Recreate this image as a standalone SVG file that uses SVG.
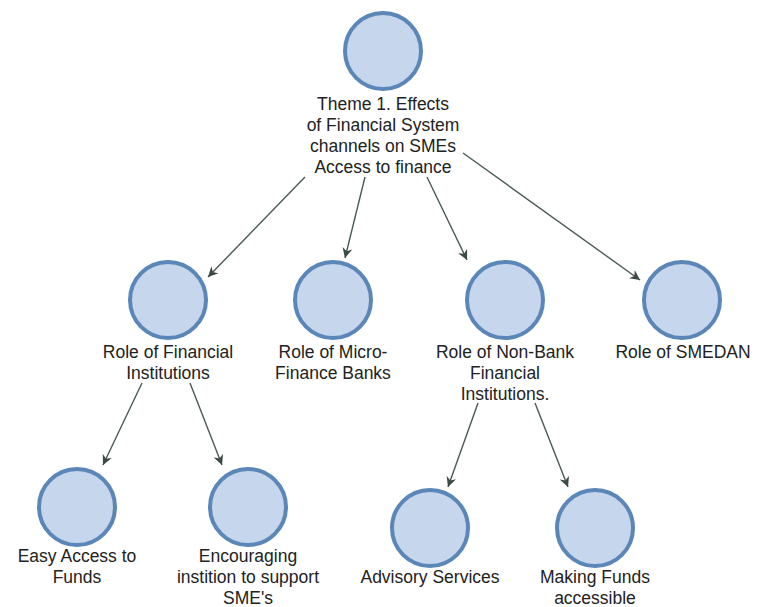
<svg xmlns="http://www.w3.org/2000/svg" width="761" height="607" viewBox="0 0 761 607">
<style>
.n{fill:#c6d6ec;stroke:#5b86b8;stroke-width:4}
.t{font-family:"Liberation Sans",Arial,sans-serif;font-size:17.5px;fill:#222;text-anchor:middle}
.e{stroke:#4a5a52;stroke-width:1.4;fill:none;marker-end:url(#a)}
</style>
<defs>
<marker id="a" viewBox="0 0 10 10" refX="10" refY="5" markerWidth="10" markerHeight="10" markerUnits="userSpaceOnUse" orient="auto">
<path d="M0,0 L10,5 L0,10 L3,5 z" fill="#3b4a42"/>
</marker>
</defs>
<rect width="761" height="607" fill="#fff"/>
<g id="edges">
<line class="e" x1="305" y1="177" x2="208" y2="277"/>
<line class="e" x1="365" y1="177" x2="345" y2="258"/>
<line class="e" x1="427" y1="177" x2="467" y2="260"/>
<line class="e" x1="463" y1="153" x2="640" y2="280"/>
<line class="e" x1="142" y1="383" x2="103" y2="465"/>
<line class="e" x1="190" y1="383" x2="222" y2="465"/>
<line class="e" x1="478" y1="403" x2="448" y2="487"/>
<line class="e" x1="535" y1="403" x2="568" y2="487"/>
</g>
<g id="theme"><circle class="n" cx="383" cy="51" r="38"/>
<text class="t" x="383" y="110">Theme 1. Effects</text>
<text class="t" x="383" y="131">of Financial System</text>
<text class="t" x="383" y="152">channels on SMEs</text>
<text class="t" x="383" y="173">Access to finance</text></g>
<g id="fin"><circle class="n" cx="168" cy="300" r="38"/>
<text class="t" x="168" y="358">Role of Financial</text>
<text class="t" x="168" y="379">Institutions</text></g>
<g id="micro"><circle class="n" cx="333" cy="300" r="38"/>
<text class="t" x="333" y="358">Role of Micro-</text>
<text class="t" x="333" y="379">Finance Banks</text></g>
<g id="nonbank"><circle class="n" cx="505" cy="300" r="38"/>
<text class="t" x="505" y="358">Role of Non-Bank</text>
<text class="t" x="505" y="379">Financial</text>
<text class="t" x="505" y="400">Institutions.</text></g>
<g id="smedan"><circle class="n" cx="682" cy="300" r="38"/>
<text class="t" x="683" y="358">Role of SMEDAN</text></g>
<g id="easy"><circle class="n" cx="77" cy="507" r="38"/>
<text class="t" x="77" y="562">Easy Access to</text>
<text class="t" x="77" y="583">Funds</text></g>
<g id="enc"><circle class="n" cx="248" cy="507" r="38"/>
<text class="t" x="248" y="562">Encouraging</text>
<text class="t" x="248" y="583">instition to support</text>
<text class="t" x="248" y="604">SME's</text></g>
<g id="adv"><circle class="n" cx="430" cy="528" r="38"/>
<text class="t" x="430" y="583">Advisory Services</text></g>
<g id="make"><circle class="n" cx="595" cy="528" r="38"/>
<text class="t" x="595" y="583">Making Funds</text>
<text class="t" x="595" y="604">accessible</text></g>
</svg>
